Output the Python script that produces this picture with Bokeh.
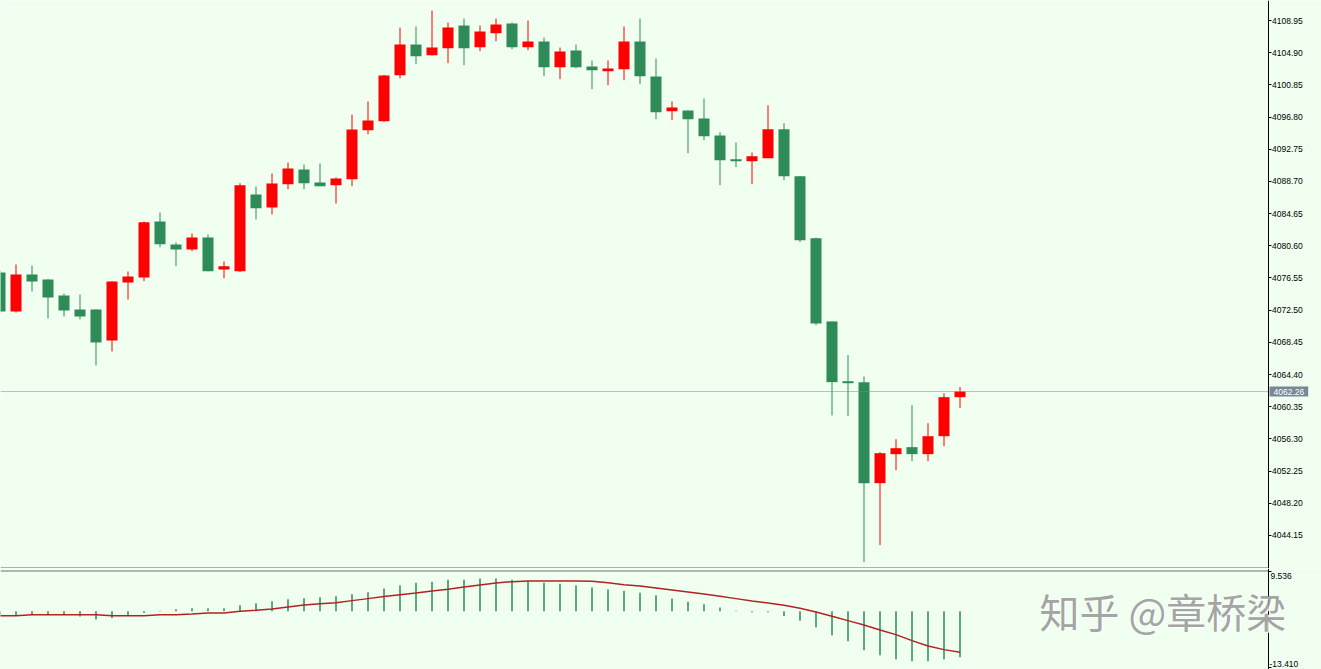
from bokeh.plotting import figure
from bokeh.layouts import column
from bokeh.models import (Label, FixedTicker, NumeralTickFormatter, ColumnDataSource,
                          LinearAxis, BoxAnnotation)
from bokeh.embed import file_html
from bokeh.resources import INLINE

# ---- data ----
opens = [4077.24, 4072.33, 4076.99, 4076.36, 4074.35, 4072.59, 4072.59, 4068.68, 4075.98, 4076.61,
         4083.66, 4080.76, 4080.14, 4081.64, 4077.62, 4077.40, 4087.06, 4085.42, 4088.35, 4090.20,
         4088.57, 4088.23, 4088.98, 4095.15, 4096.28, 4102.07, 4105.93, 4104.58, 4105.46, 4108.32,
         4105.59, 4107.35, 4108.57, 4105.59, 4106.31, 4103.07, 4105.18, 4103.16, 4102.57, 4102.82,
         4106.31, 4101.90, 4097.54, 4097.63, 4096.62, 4094.48, 4091.50, 4091.25, 4091.62, 4095.27,
         4089.36, 4081.56, 4071.08, 4063.56, 4063.44, 4050.73, 4054.38, 4055.26, 4054.38, 4056.64,
         4061.55]
highs = [4077.50, 4078.25, 4078.12, 4076.40, 4074.60, 4074.47, 4072.62, 4076.15, 4077.37, 4083.66,
         4084.79, 4081.02, 4082.15, 4082.02, 4078.63, 4088.48, 4088.06, 4089.70, 4091.08, 4090.83,
         4090.96, 4089.19, 4097.12, 4098.76, 4102.10, 4108.07, 4108.20, 4110.21, 4108.70, 4109.20,
         4108.32, 4109.20, 4108.70, 4108.95, 4106.81, 4105.55, 4105.93, 4103.92, 4103.92, 4108.20,
         4109.20, 4104.17, 4098.76, 4097.63, 4099.14, 4094.90, 4093.60, 4092.34, 4098.29, 4096.03,
         4089.40, 4081.64, 4071.08, 4066.84, 4064.15, 4054.63, 4056.26, 4060.54, 4058.28, 4062.05,
         4062.81]
lows = [4072.20, 4072.20, 4074.85, 4071.45, 4071.70, 4071.33, 4065.54, 4067.30, 4073.84, 4076.15,
        4080.42, 4078.03, 4079.92, 4077.40, 4076.52, 4077.28, 4083.91, 4084.54, 4087.72, 4087.72,
        4088.10, 4085.92, 4088.10, 4094.64, 4096.20, 4101.69, 4103.45, 4104.55, 4103.58, 4103.33,
        4105.09, 4106.35, 4105.34, 4105.21, 4101.94, 4101.56, 4102.95, 4100.31, 4100.81, 4101.44,
        4100.93, 4096.53, 4096.41, 4092.25, 4093.89, 4088.23, 4090.49, 4088.35, 4091.62, 4088.85,
        4081.05, 4070.61, 4059.25, 4059.16, 4040.79, 4042.93, 4052.36, 4053.50, 4053.50, 4055.38,
        4060.17]
closes = [4072.33, 4076.99, 4076.11, 4074.10, 4072.46, 4071.70, 4068.43, 4076.11, 4076.74, 4083.57,
          4080.80, 4080.14, 4081.64, 4077.40, 4078.03, 4088.23, 4085.33, 4088.44, 4090.33, 4088.48,
          4088.10, 4089.07, 4095.24, 4096.37, 4102.03, 4105.93, 4104.46, 4105.55, 4108.07, 4105.46,
          4107.57, 4108.45, 4105.59, 4106.31, 4103.07, 4105.05, 4103.07, 4102.70, 4102.91, 4106.31,
          4101.94, 4097.41, 4098.00, 4096.53, 4094.39, 4091.37, 4091.25, 4091.88, 4095.27, 4089.36,
          4081.31, 4070.82, 4063.44, 4063.31, 4050.73, 4054.50, 4055.13, 4054.38, 4056.64, 4061.55,
          4062.26]

macd_hist = [-0.90, -0.90, -0.85, -0.85, -0.85, -1.25, -1.95, -1.60, -1.00, -0.40,
             0.15, 0.50, 0.70, 0.70, 0.70, 1.43, 1.91, 2.39, 2.87, 3.11,
             3.35, 3.59, 4.06, 4.54, 5.42, 6.14, 6.85, 7.09, 7.57, 7.57,
             7.81, 7.81, 7.57, 7.17, 6.85, 6.61, 6.14, 5.66, 5.18, 4.94,
             4.46, 3.82, 3.03, 2.31, 1.67, 0.88, 0.16, -0.20, -0.25, -1.12,
             -2.23, -3.82, -5.74, -7.17, -9.32, -10.52, -11.47, -11.95, -11.95, -11.47,
             -11.00]
macd_signal = [-1.04, -1.04, -0.80, -0.80, -0.80, -0.80, -0.80, -1.04, -1.04, -1.04,
               -0.80, -0.80, -0.64, -0.40, -0.40, 0.00, 0.24, 0.56, 1.04, 1.51,
               1.83, 2.07, 2.55, 3.03, 3.51, 3.98, 4.38, 4.86, 5.26, 5.82,
               6.29, 6.77, 7.09, 7.25, 7.25, 7.25, 7.25, 7.17, 6.85, 6.37,
               6.06, 5.58, 5.10, 4.62, 4.14, 3.59, 3.03, 2.47, 1.99, 1.43,
               0.72, -0.16, -1.20, -2.23, -3.27, -4.46, -5.58, -7.01, -8.29, -9.16,
               -9.80]

price_ticks = [4108.95, 4104.90, 4100.85, 4096.80, 4092.75, 4088.70, 4084.65, 4080.60,
               4076.55, 4072.50, 4068.45, 4064.40, 4060.35, 4056.30, 4052.25, 4048.20, 4044.15]
macd_ticks = [9.536, -13.410]
current_price = 4062.26
watermark = "知乎 @章桥梁"

n = len(opens)
assert all(len(a) == n for a in (highs, lows, closes, macd_hist, macd_signal))

# ---- styling ----
BG = "#F0FFF0"
RED = "#FF0000"
GREEN = "#2E8B57"
SIG = "#B22222"
SLATE = "#778899"
FONT = "Liberation Sans"
AXIS_X = 79.25          # x position (bar units) of the price scale line

xs = list(range(n))
colors = [RED if c >= o else GREEN for o, c in zip(opens, closes)]
src = ColumnDataSource(dict(
    x=xs, high=highs, low=lows,
    top=[max(o, c) for o, c in zip(opens, closes)],
    bot=[min(o, c) for o, c in zip(opens, closes)],
    color=colors,
))

X_RANGE = (0.03125, 82.59375)


def make_axis(ticks, fmt, show_labels=True):
    ax = LinearAxis(fixed_location=AXIS_X, ticker=FixedTicker(ticks=ticks),
                    formatter=NumeralTickFormatter(format=fmt))
    ax.axis_line_color = "black"
    ax.axis_line_width = 1
    ax.major_tick_line_color = "black"
    ax.major_tick_in = 0
    ax.major_tick_out = 3
    ax.minor_tick_line_color = None
    ax.major_label_text_font = FONT
    ax.major_label_text_font_size = "8.5px"
    ax.major_label_text_color = "black" if show_labels else None
    ax.major_label_standoff = 1
    return ax


def base_fig(height, y_range, x_range):
    f = figure(width=1321, height=height, x_range=x_range, y_range=y_range,
               output_backend="svg", toolbar_location=None,
               x_axis_location=None, y_axis_location=None,
               min_border_left=0, min_border_top=0, min_border_bottom=0, min_border_right=0,
               background_fill_color=BG, border_fill_color=BG, outline_line_color=None)
    f.grid.visible = False
    return f


def hline(fig, y, color):
    fig.add_layout(BoxAnnotation(right=AXIS_X, top=y, bottom=y, fill_alpha=0,
                                 line_color=color, line_width=1))


# ---- main candle panel ----
p = base_fig(568, (4039.99, 4111.47), X_RANGE)
p.add_layout(make_axis(price_ticks, "0.00"), "right")

hline(p, current_price, SLATE)
p.segment(x0="x", y0="low", x1="x", y1="high", line_color="color", line_width=1, source=src)
p.vbar(x="x", width=0.6875, top="top", bottom="bot", fill_color="color", line_color=None, source=src)
hline(p, 4040.056, "black")
p.add_layout(Label(x=1269, y=current_price, x_units="screen", y_units="data",
                   text=f"{current_price:.2f}", text_font=FONT, text_font_size="8.5px",
                   text_color="white", text_baseline="middle", text_align="left",
                   background_fill_color=SLATE, padding=(4, 2)))

# ---- MACD panel ----
q = base_fig(101, (-13.911, 10.229), p.x_range)
q.add_layout(make_axis(macd_ticks, "0.000", show_labels=False), "right")

hline(q, 9.631, "black")
q.segment(x0=xs, y0=[0] * n, x1=xs, y1=macd_hist, line_color=GREEN, line_width=1.5)
q.line(xs, macd_signal, line_color=SIG, line_width=1.5)
q.add_layout(Label(x=1270, y=94, x_units="screen", y_units="screen", text=f"{macd_ticks[0]:.3f}",
                   text_font=FONT, text_font_size="8.5px", text_color="black",
                   text_baseline="middle", text_align="left"))
q.add_layout(Label(x=1269, y=6, x_units="screen", y_units="screen", text=f"{macd_ticks[1]:.3f}",
                   text_font=FONT, text_font_size="8.5px", text_color="black",
                   text_baseline="middle", text_align="left"))
q.add_layout(Label(x=1040.5, y=57.5, x_units="screen", y_units="screen", text=watermark,
                   text_font="Noto Sans CJK SC", text_font_size="40px", text_color="white",
                   text_alpha=0.9, text_baseline="middle", text_align="left"))
q.add_layout(Label(x=1039, y=59, x_units="screen", y_units="screen", text=watermark,
                   text_font="Noto Sans CJK SC", text_font_size="40px", text_color="#999999",
                   text_alpha=0.9, text_baseline="middle", text_align="left"))

layout = column(p, q, spacing=0)
open("out.html", "w").write(file_html(layout, INLINE))
